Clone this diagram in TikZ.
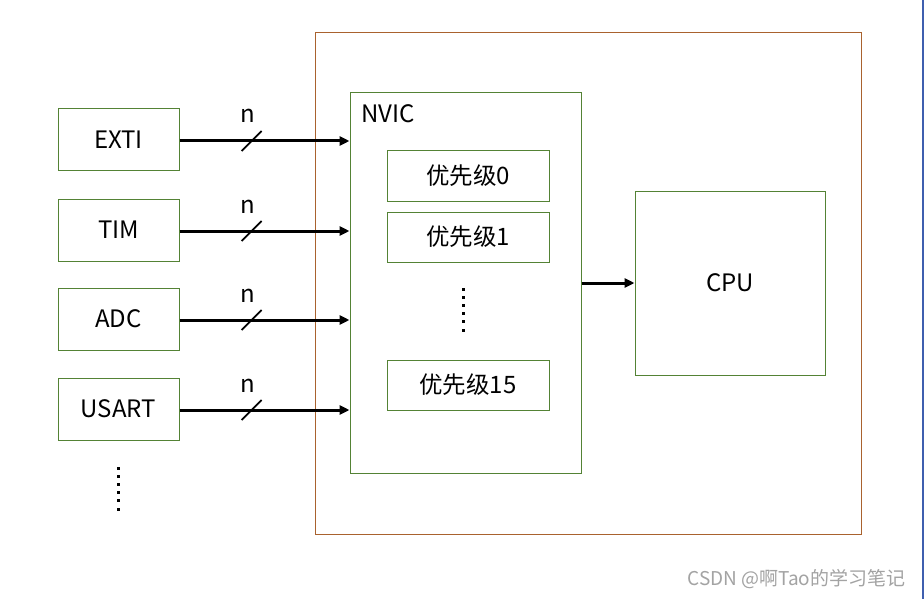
\documentclass[tikz,border=0pt]{standalone}
\usepackage{fontspec}
\setmainfont{Noto Sans CJK SC}
\usetikzlibrary{arrows.meta,calc}
\definecolor{boxgreen}{HTML}{548235}
\definecolor{outerbrown}{HTML}{A9622E}
\definecolor{edgeblue}{HTML}{3F5FAF}
\definecolor{wmgrey}{HTML}{A3A3A3}
\newcommand\zhtxt[1]{{\fontsize{23.5}{26}\selectfont #1}}
\tikzset{
  txt/.style={font=\fontsize{24}{28}\selectfont, text=black},
  gbox/.style={draw=boxgreen, line width=1pt, fill=white, inner sep=0pt, txt},
  arr/.style={line width=3pt, -{Triangle[length=10pt,width=9pt]}},
  slashline/.style={line width=1.8pt},
  dotmark/.style={fill=black, inner sep=0pt, minimum size=3pt, draw=none, shape=rectangle},
}
\begin{document}
\begin{tikzpicture}[x=1pt,y=-1pt]
\useasboundingbox (0,0) rectangle (924,599);
\fill[white] (0,0) rectangle (924,599);
% outer frame
\node[draw=outerbrown, line width=1pt, minimum width=546pt, minimum height=501pt, inner sep=0pt] (outer) at (588,283.5) {};
% NVIC
\node[draw=boxgreen, line width=1pt, minimum width=231pt, minimum height=380pt, inner sep=0pt] (nvic) at (465.5,283) {};
\node[txt, anchor=west] (nviclbl) at (358,114) {NVIC};
% priority boxes
\node[gbox, minimum width=162pt, minimum height=50pt] (p0) at (468,176) {\zhtxt{优先级}0};
\node[gbox, minimum width=162pt, minimum height=50pt] (p1) at (468,237) {\zhtxt{优先级}1};
\node[gbox, minimum width=162pt, minimum height=50pt] (p15) at (468,385) {\zhtxt{优先级}15};
% middle dots
\foreach \i [count=\k] in {289,297.2,305.4,313.6,321.8,330}
  \node[dotmark] (md\k) at (463,\i) {};
% CPU
\node[gbox, minimum width=190pt, minimum height=184pt] (cpu) at (730,283) {CPU};
% left sources
\node[gbox, minimum width=121pt, minimum height=62pt] (exti) at (118.5,140) {EXTI};
\node[gbox, minimum width=121pt, minimum height=62pt] (tim) at (118.5,230) {TIM};
\node[gbox, minimum width=121pt, minimum height=62pt] (adc) at (118.5,319) {ADC};
\node[gbox, minimum width=121pt, minimum height=62pt] (usart) at (118.5,409) {USART};
\foreach \i [count=\k] in {468,476.2,484.4,492.6,500.8,509}
  \node[dotmark] (ld\k) at (118,\i) {};
% arrows with bus slash
\foreach \src [count=\k] in {exti,tim,adc,usart}{
  \draw[arr] ($(\src.east)+(0,1)$) -- coordinate[pos=0.424] (s\k) ($(\src.east -| nvic.west)+(0,1)$);
  \draw[slashline] ($(s\k)+(-10,10)$) -- ($(s\k)+(10,-10)$);
  \node[txt, anchor=base] (n\k) at ($(s\k)+(-4,-18)$) {n};
}
% NVIC -> CPU
\draw[arr] (nvic.east |- cpu.west) -- (cpu.west);
% watermark
\node[text=wmgrey, font=\fontsize{19}{22}\selectfont, anchor=east] (wm) at (909,579) {CSDN @啊Tao的学习笔记};
% right edge line
\draw[edgeblue, line width=1.5pt] (922.8,0) -- (922.8,599);
\end{tikzpicture}
\end{document}
